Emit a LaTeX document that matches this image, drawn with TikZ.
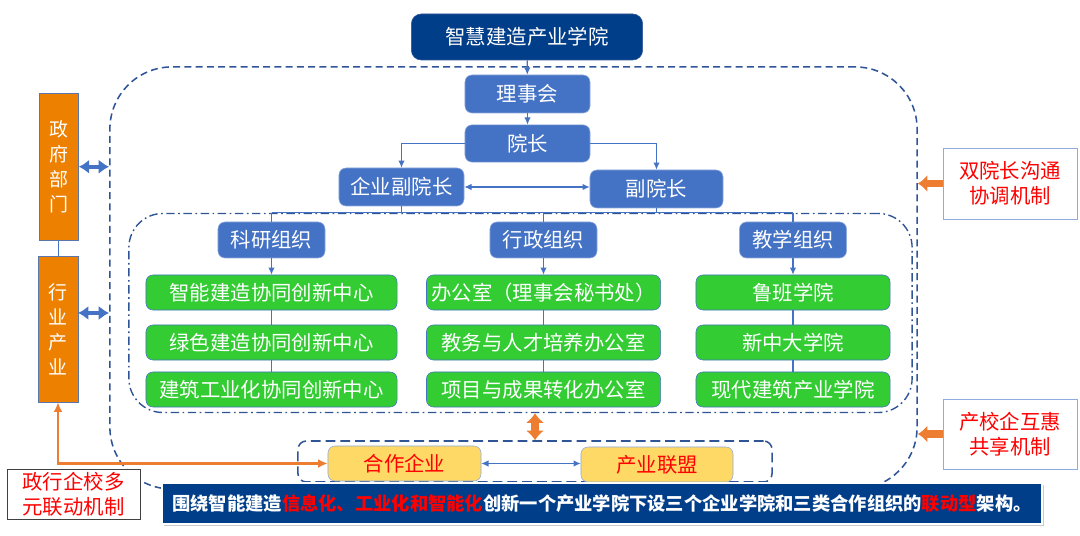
\documentclass[tikz,border=0pt]{standalone}
\usepackage{fontspec}
\setmainfont{Noto Sans CJK SC}
\usetikzlibrary{arrows.meta,calc,shadows}
\definecolor{Navy}{RGB}{0,62,137}
\definecolor{MidBlue}{RGB}{68,114,196}
\definecolor{EdgeBlue}{RGB}{47,85,151}
\definecolor{LeafGreen}{RGB}{51,204,51}
\definecolor{OrangeFill}{RGB}{238,128,0}
\definecolor{ArrowOrange}{RGB}{237,125,49}
\definecolor{SoftYellow}{RGB}{255,217,102}
\definecolor{NoteRed}{RGB}{255,0,0}
\definecolor{PaleBlue}{RGB}{143,170,220}
\definecolor{Charcoal}{RGB}{64,64,64}
\newcommand\orgfont{\fontsize{14.5pt}{17.8pt}\selectfont}
\newcommand\stackfont{\fontsize{13.5pt}{17.8pt}\selectfont}
\newcommand\bannerfont{\fontsize{13pt}{15pt}\selectfont\bfseries}
\tikzset{
  >=Latex,
  boxbase/.style={rounded corners=5pt,inner sep=0pt,align=center,font=\orgfont},
  headbox/.style={boxbase,draw=EdgeBlue,fill=Navy,text=white,rounded corners=7pt},
  bluebox/.style={boxbase,draw=PaleBlue,fill=MidBlue,text=white},
  greenbox/.style={boxbase,draw=MidBlue,fill=LeafGreen,text=white,minimum height=.875cm},
  yellowbox/.style={boxbase,draw=MidBlue!60,fill=SoftYellow,text=NoteRed,minimum width=3.8cm,minimum height=.875cm},
  sidebox/.style={draw=EdgeBlue!80,fill=OrangeFill,text=white,align=center,inner sep=0pt,font=\stackfont,minimum width=.99cm},
  notebox/.style={draw=PaleBlue,fill=white,text=NoteRed,align=center,inner sep=0pt,font=\orgfont,minimum width=3.35cm,minimum height=1.77cm},
  outerframe/.style={draw=EdgeBlue,line width=1.1pt,dash pattern=on 5pt off 3pt,rounded corners=1.55cm},
  innerframe/.style={draw=EdgeBlue,line width=1pt,dash pattern=on 6pt off 2.5pt on 1.2pt off 2.5pt,rounded corners=.85cm},
  groupframe/.style={draw=EdgeBlue,line width=1.1pt,dash pattern=on 7pt off 3.5pt,rounded corners=6pt},
  banner/.style={draw=white,line width=1.2pt,fill=Navy,text=white,font=\bannerfont,inner sep=0pt,minimum width=22cm,minimum height=1.02cm,drop shadow={fill=black!35,shadow xshift=1.5pt,shadow yshift=-1.5pt,opacity=.6}},
  link/.style={draw=MidBlue,line width=.8pt,-{Latex[length=1.8mm,width=1.6mm]}},
  twolink/.style={link,{Latex[length=1.8mm,width=1.6mm]}-{Latex[length=1.8mm,width=1.6mm]}},
  stem/.style={draw=MidBlue,line width=.8pt},
  fatlink/.style={draw=MidBlue,line width=3pt,{Latex[length=2.6mm,width=3.6mm]}-{Latex[length=2.6mm,width=3.6mm]}},
  pushlink/.style={draw=ArrowOrange,line width=5.5pt,-{Latex[length=2.4mm,width=4.4mm]}},
  swaplink/.style={draw=ArrowOrange,line width=5.5pt,{Latex[length=2.4mm,width=4.6mm]}-{Latex[length=2.4mm,width=4.6mm]}},
  tielink/.style={draw=ArrowOrange,line width=1.6pt,{Latex[length=2.4mm,width=2.2mm]}-{Latex[length=2.4mm,width=2.2mm]}}
}
\begin{document}
\begin{tikzpicture}[x=.025cm,y=-.025cm]
  \useasboundingbox (0,0) rectangle (1080,536);
  % frames
  \node[outerframe,minimum width=20.175cm,minimum height=10.55cm] (outer) at (513.5,278) {};
  \node[innerframe,minimum width=19.575cm,minimum height=4.975cm] (inner) at (520.5,313) {};
  \node[groupframe,minimum width=11.85cm,minimum height=1.025cm] (group) at (535,461.5) {};
  % top of the hierarchy
  \node[headbox,minimum width=5.78cm,minimum height=1.15cm] (college) at (527,37) {智慧建造产业学院};
  \node[bluebox,minimum width=3.125cm,minimum height=.95cm] (council) at (527.5,94) {理事会};
  \node[bluebox,minimum width=3.125cm,minimum height=.93cm] (dean) at (527.5,143.5) {院长};
  \node[bluebox,minimum width=3.125cm,minimum height=.95cm] (vicecorp) at (401.5,187) {企业副院长};
  \node[bluebox,minimum width=3.325cm,minimum height=.95cm] (vicedean) at (656.5,189) {副院长};
  % three organisations
  \node[bluebox,minimum width=2.675cm,minimum height=.9cm] (research) at (271.5,240) {科研组织};
  \node[bluebox,minimum width=2.675cm,minimum height=.9cm] (admin) at (543.5,240) {行政组织};
  \node[bluebox,minimum width=2.675cm,minimum height=.9cm] (teaching) at (793,240) {教学组织};
  \node[greenbox,minimum width=6.275cm] (r1) at (271.5,292.5) {智能建造协同创新中心};
  \node[greenbox,minimum width=6.275cm] (r2) at (271.5,342.5) {绿色建造协同创新中心};
  \node[greenbox,minimum width=6.275cm] (r3) at (271.5,389.5) {建筑工业化协同创新中心};
  \node[greenbox,minimum width=5.85cm] (a1) at (543.5,292.5) {办公室（理事会秘书处）};
  \node[greenbox,minimum width=5.85cm] (a2) at (543.5,342.5) {教务与人才培养办公室};
  \node[greenbox,minimum width=5.85cm] (a3) at (543.5,389.5) {项目与成果转化办公室};
  \node[greenbox,minimum width=4.85cm] (t1) at (793,292.5) {鲁班学院};
  \node[greenbox,minimum width=4.85cm] (t2) at (793,342.5) {新中大学院};
  \node[greenbox,minimum width=4.85cm] (t3) at (793,389.5) {现代建筑产业学院};
  % partners
  \node[yellowbox,minimum width=3.825cm] (partner) at (404.5,463.5) {合作企业};
  \node[yellowbox] (alliance) at (657,464.5) {产业联盟};
  % side boxes
  \node[sidebox,minimum height=3.69cm] (gov) at (58.75,166.75) {政\\府\\部\\门};
  \node[sidebox,minimum height=3.65cm] (industry) at (58,329) {行\\业\\产\\业};
  \node[notebox] (dual) at (1010,183.5) {双院长沟通\\协调机制};
  \node[notebox,minimum height=1.75cm] (mutual) at (1010,434) {产校企互惠\\共享机制};
  \node[notebox,draw=Charcoal,minimum width=3.325cm,minimum height=1.25cm] (joint) at (73.5,494) {政行企校多\\元联动机制};
  % connectors
  \draw[link] (college) -- (council);
  \draw[link] (council) -- (dean);
  \draw[link] (dean.west) -| (vicecorp.north);
  \draw[link] (dean.east) -| (vicedean.north);
  \draw[twolink] (vicecorp.east) -- (vicecorp.east -| vicedean.west);
  \draw[stem] (research.north |- inner.north) -- (teaching.north |- inner.north);
  \draw[stem] (vicecorp.south) -- (vicecorp.south |- inner.north);
  \draw[stem] (vicedean.south) -- (vicedean.south |- inner.north);
  \foreach \g/\c in {research/r,admin/a,teaching/t}{
    \draw[stem] (\g.north |- inner.north) -- (\g.north);
    \draw[link] (\g.south) -- (\g.south |- \c1.north);
    \draw[stem] (\g.south |- \c1.south) -- (\g.south |- \c2.north);
    \draw[stem] (\g.south |- \c2.south) -- (\g.south |- \c3.north);
  }
  \draw[stem] (gov.south) -- (gov.south |- industry.north);
  \draw[fatlink] (gov.east) -- (gov.east -| outer.west);
  \draw[fatlink] ([yshift=.4cm]industry.east) -- ([yshift=.4cm]industry.east -| outer.west);
  \draw[pushlink] (dual.west) -- (dual.west -| outer.east);
  \draw[pushlink] (mutual.west) -- (mutual.west -| outer.east);
  \draw[swaplink] (inner.south -| group.north) -- (group.north);
  \draw[twolink] (partner.east) -- (partner.east -| alliance.west);
  \draw[tielink] (industry.south) |- (partner.west);
  % summary line
  \node[banner] (motto) at (602,503.5) {围绕智能建造\textcolor{NoteRed}{信息化、工业化和智能化}创新一个产业学院下设三个企业学院和三类合作组织的\textcolor{NoteRed}{联动型}架构。};
\end{tikzpicture}
\end{document}
